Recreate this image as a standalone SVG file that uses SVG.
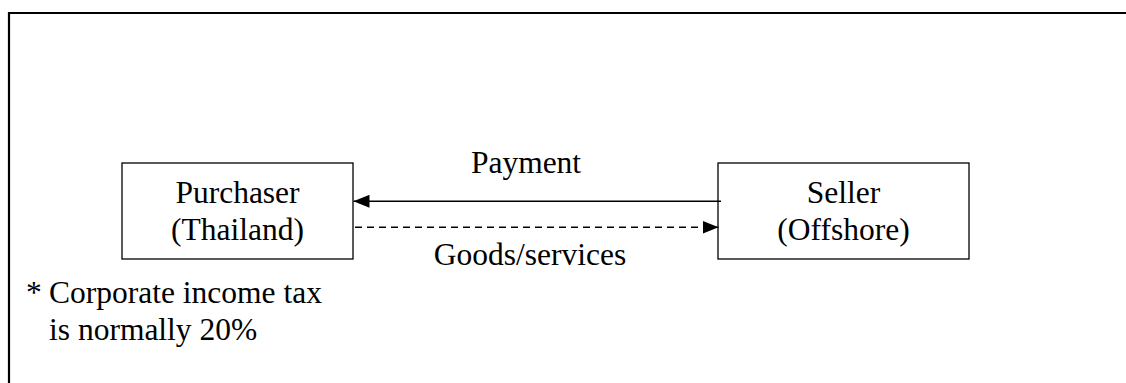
<svg xmlns="http://www.w3.org/2000/svg" width="1126" height="383" viewBox="0 0 1126 383">
<style>
  .t{font-size:31.5px;fill:#000}
  .c{text-anchor:middle}
  .box{fill:#fff;stroke:#000;stroke-width:1.3}
  .ln{stroke:#000;stroke-width:1.6;fill:none}
</style>
<defs>
  <marker id="ah" viewBox="0 0 16 13" refX="16" refY="6.5" markerWidth="16" markerHeight="13" markerUnits="userSpaceOnUse" orient="auto">
    <path d="M0,0 L16,6.5 L0,13 Z" fill="#000"/>
  </marker>
</defs>
<rect width="1126" height="383" fill="#fff"/>
<path d="M9,384 V13 H1127" fill="none" stroke="#000" stroke-width="2.2"/>
<g id="purchaser">
  <rect class="box" x="122" y="163" width="231" height="96"/>
  <text class="t c" font-family="Liberation Serif, serif" x="237.5" y="203">Purchaser</text>
  <text class="t c" font-family="Liberation Serif, serif" x="237.5" y="240">(Thailand)</text>
</g>
<g id="seller">
  <rect class="box" x="718" y="163" width="251" height="96"/>
  <text class="t c" font-family="Liberation Serif, serif" x="843.5" y="203">Seller</text>
  <text class="t c" font-family="Liberation Serif, serif" x="843.5" y="240">(Offshore)</text>
</g>
<g id="connectors">
  <line class="ln" x1="721" y1="201.3" x2="353.5" y2="201.3" marker-end="url(#ah)"/>
  <line class="ln" x1="355" y1="227.3" x2="718.5" y2="227.3" stroke-dasharray="7 5" marker-end="url(#ah)"/>
  <text class="t c" font-family="Liberation Serif, serif" x="526" y="173">Payment</text>
  <text class="t c" font-family="Liberation Serif, serif" x="530" y="265">Goods/services</text>
</g>
<g id="note">
  <text class="t" font-family="Liberation Serif, serif" x="26" y="303">*</text>
  <text class="t" font-family="Liberation Serif, serif" x="49" y="303">Corporate income tax</text>
  <text class="t" font-family="Liberation Serif, serif" x="49" y="340">is normally 20%</text>
</g>
</svg>
